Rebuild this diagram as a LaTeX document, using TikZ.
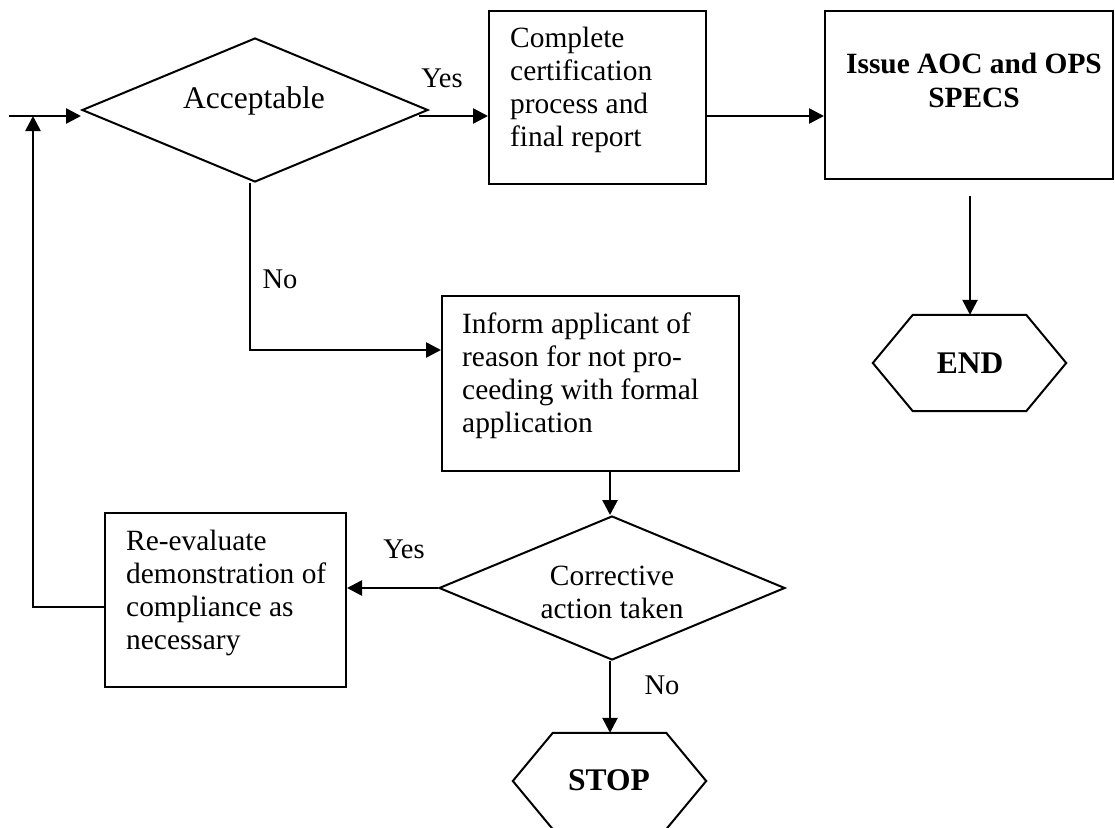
\documentclass[tikz,border=0pt]{standalone}
\usepackage{fontspec}
\setmainfont{Liberation Serif}
\usetikzlibrary{arrows.meta,calc,shapes.geometric}
\begin{document}
\begin{tikzpicture}[x=1pt,y=-1pt,
  box/.style={draw, line width=2pt, rectangle, inner sep=0pt},
  dia/.style={draw, line width=2pt, diamond, inner sep=0pt, minimum width=346pt, minimum height=144pt},
  hexbase/.style={rectangle, inner sep=0pt, minimum width=193pt, minimum height=96pt},
  hexline/.style={draw, line width=2pt, line join=miter},
  txt/.style={font=\fontsize{29.4}{33}\selectfont, inner sep=0pt},
  bigtxt/.style={font=\fontsize{31.5}{34}\selectfont, inner sep=0pt},
  boldtxt/.style={font=\fontsize{29.4}{34}\selectfont\bfseries, inner sep=0pt},
  termtxt/.style={font=\fontsize{31.5}{34}\selectfont\bfseries, inner sep=0pt},
  lbl/.style={font=\fontsize{28.5}{33}\selectfont, inner sep=0pt},
  conn/.style={line width=2.6pt, -{Triangle[length=15pt,width=15pt]}}
]
\useasboundingbox (0,0) rectangle (1115,827);

% shapes
\node[dia] (acc) at (255,110) {};
\node[box, minimum width=217pt, minimum height=173pt] (b1) at (597.5,97.5) {};
\node[box, minimum width=288pt, minimum height=168pt] (b2) at (969,95) {};
\node[hexbase] (end) at (969.5,363) {};
\node[box, minimum width=297pt, minimum height=175pt] (inform) at (590.5,383.5) {};
\node[dia] (corr) at (612,588) {};
\node[box, minimum width=241pt, minimum height=174pt] (reeval) at (225.5,600) {};
\node[hexbase] (stop) at (609.5,781) {};

\draw[hexline] (end.west) -- ($(end.north west)+(40,0)$) -- ($(end.north east)+(-40,0)$) -- (end.east) -- ($(end.south east)+(-40,0)$) -- ($(end.south west)+(40,0)$) -- cycle;
\draw[hexline] (stop.west) -- ($(stop.north west)+(40,0)$) -- ($(stop.north east)+(-40,0)$) -- (stop.east) -- ($(stop.south east)+(-40,0)$) -- ($(stop.south west)+(40,0)$) -- cycle;

% texts (base anchor of a multi-line node = baseline of its last line)
\node[bigtxt, anchor=base] (accT) at (254,108) {Acceptable};
\node[txt, anchor=base west, align=left] (b1T) at (510,146) {Complete\\certification\\process and\\final report};
\node[boldtxt, anchor=base, align=center] (b2T) at (974,107) {Issue AOC and OPS\\SPECS};
\node[termtxt, anchor=base] (endT) at (970,373) {END};
\node[txt, anchor=base west, align=left] (infT) at (462,432) {Inform applicant of\\reason for not pro-\\ceeding with formal\\application};
\node[txt, anchor=base, align=center] (corrT) at (612,618) {Corrective\\action taken};
\node[txt, anchor=base west, align=left] (reT) at (126,649) {Re-evaluate\\demonstration of\\compliance as\\necessary};
\node[termtxt, anchor=base] (stopT) at (609,790) {STOP};

% labels
\node[lbl, anchor=base] (yes1) at (442,87) {Yes};
\node[lbl, anchor=base] (no1) at (280,288) {No};
\node[lbl, anchor=base] (yes2) at (404,558) {Yes};
\node[lbl, anchor=base] (no2) at (662,694) {No};

% connectors
\coordinate (in) at (9,116);
\coordinate (up) at (33,116);
\coordinate (accR) at ($(acc.east)+(-10,6)$);
\coordinate (accB) at ($(acc.south)+(-5,0)$);
\coordinate (b2o) at ($(b2.south)+(1,16)$);
\coordinate (infB) at ($(inform.south)+(19.5,0)$);

\draw[conn] (in) -- (in -| acc.west);
\draw[conn] ($(reeval.west)+(0,7)$) -| (up);
\draw[conn] (accR) -- (accR -| b1.west);
\draw[conn] (b1.east |- accR) -- (b2.west |- accR);
\draw[conn] (b2o) -- (b2o |- end.north);
\draw[conn] (accB) |- ($(inform.west)+(0,-33.5)$);
\draw[conn] (infB) -- (infB |- corr.north);
\draw[conn] (corr.west) -- (corr.west -| reeval.east);
\draw[conn] (infB |- corr.south) -- (infB |- stop.north);
\end{tikzpicture}
\end{document}
